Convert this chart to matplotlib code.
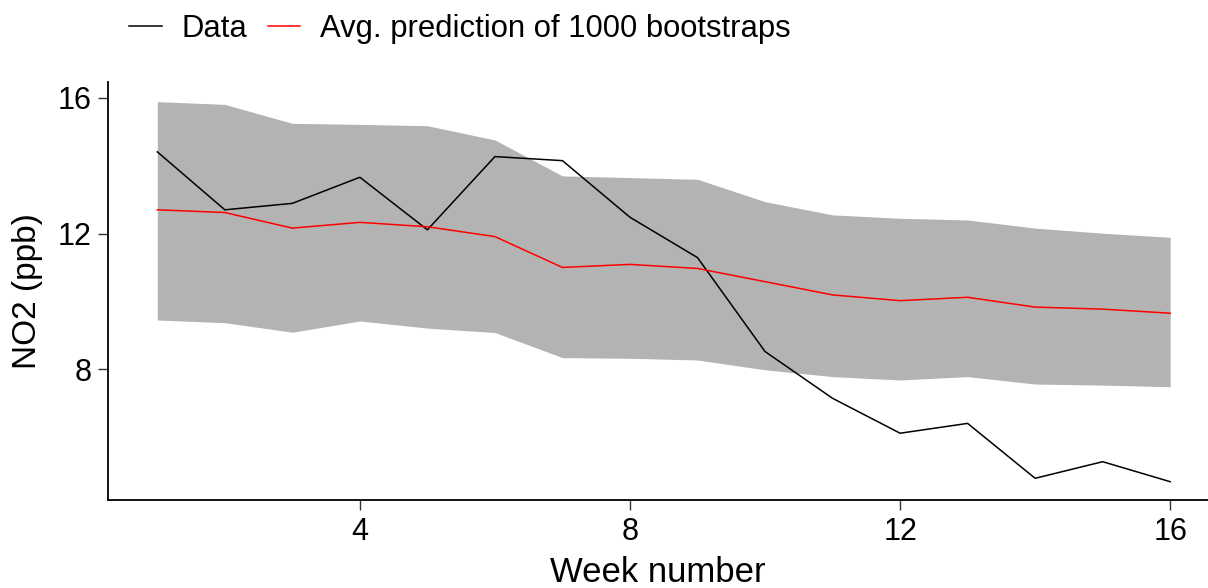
import matplotlib
matplotlib.use("Agg")
import matplotlib.pyplot as plt
from matplotlib.lines import Line2D

plt.rcParams['font.family'] = ['Liberation Sans', 'DejaVu Sans']

weeks = list(range(1, 17))
data_no2 = [14.41, 12.70, 12.89, 13.66, 12.11, 14.27, 14.15, 12.48,
            11.29, 8.52, 7.14, 6.11, 6.40, 4.78, 5.27, 4.68]
avg_pred = [12.70, 12.62, 12.16, 12.33, 12.20, 11.91, 11.00, 11.09,
            10.97, 10.58, 10.19, 10.02, 10.12, 9.83, 9.77, 9.65]
upper = [15.89, 15.81, 15.25, 15.22, 15.18, 14.76, 13.70, 13.65,
         13.60, 12.94, 12.55, 12.45, 12.40, 12.16, 12.01, 11.89]
lower = [9.45, 9.37, 9.09, 9.42, 9.21, 9.08, 8.34, 8.32,
         8.27, 7.98, 7.78, 7.68, 7.78, 7.56, 7.53, 7.48]
x_ticks = [4, 8, 12, 16]
y_ticks = [8, 12, 16]

W, H = 1208, 588
fig = plt.figure(figsize=(W / 100, H / 100), dpi=100)
ax = fig.add_axes([108 / W, 1 - 500 / H, 1 - 108 / W, (500 - 82) / H])

ax.fill_between(weeks, lower, upper, color='#b3b3b3', linewidth=0)
ax.plot(weeks, data_no2, color='black', linewidth=1.1)
ax.plot(weeks, avg_pred, color='red', linewidth=1.1)

ax.set_xlim(0.27, 16.56)
ax.set_ylim(4.14, 16.47)
ax.set_xticks(x_ticks)
ax.set_yticks(y_ticks)
for s in ['top', 'right']:
    ax.spines[s].set_visible(False)
for s in ['left', 'bottom']:
    ax.spines[s].set_linewidth(1.3)
    ax.spines[s].set_color('black')
ax.tick_params(axis='both', direction='out', length=7, width=1.0,
               color='#333333', labelsize=22, labelcolor='black', pad=5)
ax.set_xlabel('Week number', fontsize=25, labelpad=7)
ax.set_ylabel('NO2 (ppb)', fontsize=24, labelpad=10)

handles = [Line2D([], [], color='black', linewidth=1.1),
           Line2D([], [], color='red', linewidth=1.1)]
fig.legend(handles, ['Data', 'Avg. prediction of 1000 bootstraps'],
           loc='center left', bbox_to_anchor=(129 / W, 1 - 29 / H),
           ncol=2, frameon=False, fontsize=22.3, handlelength=1.05,
           handletextpad=0.65, columnspacing=0.65, borderpad=0,
           borderaxespad=0)

fig.savefig('out.png', dpi=100)
